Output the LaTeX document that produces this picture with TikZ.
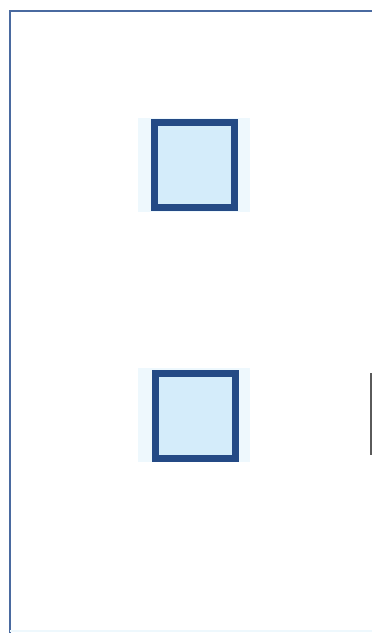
\documentclass[tikz,border=0pt]{standalone}
\usepackage{xcolor}
\definecolor{framecol}{HTML}{4A6AA0}
\definecolor{boxline}{HTML}{244A85}
\definecolor{boxfill}{HTML}{D4ECFA}
\definecolor{glow}{HTML}{EEF8FD}
\definecolor{edgecol}{HTML}{5A5A5A}
\tikzset{
  sqbox/.style={draw=boxline, line width=7pt, fill=boxfill, minimum width=80pt, minimum height=85pt, inner sep=0pt, outer sep=0pt},
  halo/.style={fill=glow, draw=none},
  frameline/.style={draw=framecol, line width=2pt}
}
\begin{document}
\begin{tikzpicture}[x=1pt,y=-1pt]
\useasboundingbox (0,0) rectangle (372,633);
\fill[white] (0,0) rectangle (372,633);
% faint halos
\fill[halo] (138,118) rectangle (250,212);
\fill[halo] (138,368) rectangle (250,462);
% frame
\coordinate (tl) at (10,11);
\coordinate (tr) at (372,11);
\coordinate (bl) at (10,633);
\draw[frameline] (tr) -- (tl) -- (bl);
\draw[draw=glow, line width=1.5pt] (10,631) -- (372,631);
\coordinate (e1) at (371,373);
\coordinate (e2) at (371,455);
\draw[draw=edgecol, line width=1.2pt] (e1) -- (e2);
% squares
\node[sqbox] (sq1) at (194.5,165) {};
\node[sqbox] (sq2) at (195.5,415.5) {};
\end{tikzpicture}
\end{document}
